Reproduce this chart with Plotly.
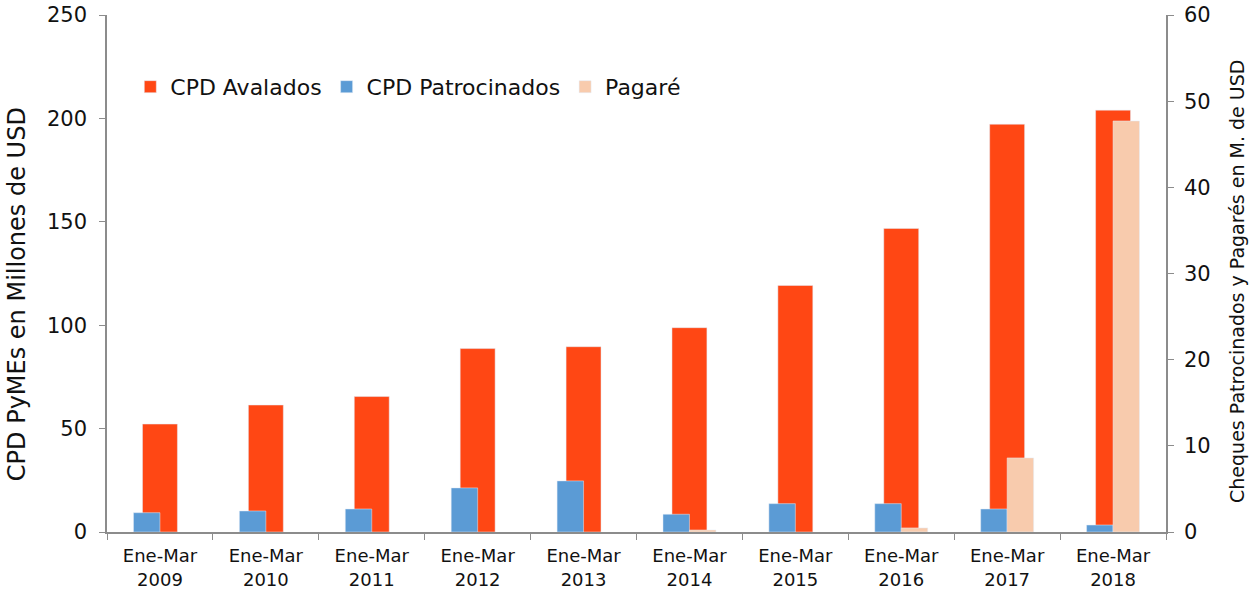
import plotly.graph_objects as go

# periods (Jan-Mar of each year)
years = ["2009", "2010", "2011", "2012", "2013", "2014", "2015", "2016", "2017", "2018"]
labels = ["Ene-Mar<br>" + y for y in years]

# left axis, millions USD
cpd_avalados = [52.2, 61.4, 65.5, 88.7, 89.6, 98.8, 119.2, 146.8, 197.2, 204.0]
# right axis, millions USD
cpd_patrocinados = [2.24, 2.44, 2.67, 5.12, 5.93, 2.06, 3.29, 3.29, 2.67, 0.81]
pagare = [None, None, None, None, None, 0.23, None, 0.47, 8.6, 47.7]

font_name = "DejaVu Sans"
axis_grey = "#8c8c8c"

fig = go.Figure()

fig.add_trace(go.Bar(x=labels, y=cpd_avalados, name="CPD Avalados",
                     marker_color="#FF4714", width=0.33, offset=-0.165, yaxis="y"))
fig.add_trace(go.Bar(x=labels, y=cpd_patrocinados, name="CPD Patrocinados",
                     marker_color="#5B9BD5", width=0.25, offset=-0.25, yaxis="y2"))
fig.add_trace(go.Bar(x=labels, y=pagare, name="Pagaré",
                     marker_color="#F8CBAD", width=0.25, offset=0, yaxis="y2"))

fig.update_layout(
    width=1258, height=590,
    barmode="overlay",
    plot_bgcolor="white", paper_bgcolor="white",
    font=dict(family=font_name, size=18, color="#111111"),
    margin=dict(l=107, r=92, t=15, b=58, autoexpand=False),
    showlegend=True,
    legend=dict(orientation="h", x=0.022, y=0.861, xanchor="left", yanchor="middle",
                font=dict(size=22), bgcolor="rgba(0,0,0,0)", traceorder="normal"),
    xaxis=dict(type="category", showline=True, linecolor=axis_grey, linewidth=1.5,
               ticks="outside", tickson="boundaries", ticklen=6, tickcolor=axis_grey,
               tickfont=dict(size=18), showgrid=False, automargin=False,
               ticklabelstandoff=7, ticklabeloverflow="allow"),
    yaxis=dict(range=[0, 250], dtick=50, showline=True, linecolor=axis_grey, linewidth=1.5,
               ticks="outside", ticklen=6, tickcolor=axis_grey, showgrid=False,
               zeroline=False, tickfont=dict(size=21), automargin=False,
               ticklabelstandoff=8, ticklabeloverflow="allow"),
    yaxis2=dict(range=[0, 60], dtick=10, overlaying="y", side="right", showline=True,
                linecolor=axis_grey, linewidth=1.5, ticks="outside", ticklen=6,
                tickcolor=axis_grey, showgrid=False, zeroline=False, tickfont=dict(size=21),
                automargin=False, ticklabelstandoff=6, ticklabeloverflow="allow"),
)

# axis titles as rotated annotations so they sit where the original has them
fig.add_annotation(text="CPD PyMEs en Millones de USD", textangle=-90,
                   xref="paper", yref="paper", x=-0.085, y=0.46,
                   xanchor="center", yanchor="middle", showarrow=False,
                   font=dict(size=24))
fig.add_annotation(text="Cheques Patrocinados y Pagarés en M. de USD", textangle=-90,
                   xref="paper", yref="paper", x=1.067, y=0.4855,
                   xanchor="center", yanchor="middle", showarrow=False,
                   font=dict(size=19))

# drop the default 8px page margin so the figure sits at the window corner
fig.write_html("out.html", config={"displayModeBar": False},
               post_script="document.body.style.margin='0';")
